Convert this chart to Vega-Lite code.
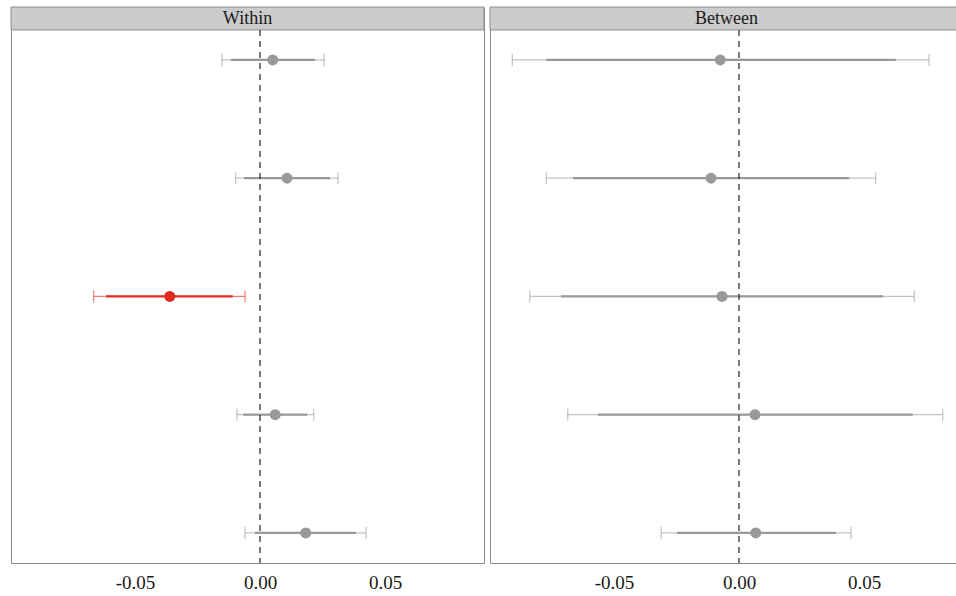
{
  "$schema": "https://vega.github.io/schema/vega-lite/v6.json",
  "background": "white",
  "padding": {"left": 10, "top": 6, "right": 0, "bottom": 0},
  "data": {"values": [
    {"panel": "Within", "term": 1, "est": 0.0051, "lo95": -0.0152, "hi95": 0.0256, "lo90": -0.0117, "hi90": 0.0220, "sig": "no"},
    {"panel": "Within", "term": 2, "est": 0.0108, "lo95": -0.0097, "hi95": 0.0312, "lo90": -0.0064, "hi90": 0.0280, "sig": "no"},
    {"panel": "Within", "term": 3, "est": -0.0361, "lo95": -0.0665, "hi95": -0.0060, "lo90": -0.0616, "hi90": -0.0109, "sig": "yes"},
    {"panel": "Within", "term": 4, "est": 0.0061, "lo95": -0.0092, "hi95": 0.0215, "lo90": -0.0067, "hi90": 0.0189, "sig": "no"},
    {"panel": "Within", "term": 5, "est": 0.0183, "lo95": -0.0060, "hi95": 0.0424, "lo90": -0.0020, "hi90": 0.0384, "sig": "no"},
    {"panel": "Between", "term": 1, "est": -0.0075, "lo95": -0.0907, "hi95": 0.0760, "lo90": -0.0771, "hi90": 0.0627, "sig": "no"},
    {"panel": "Between", "term": 2, "est": -0.0112, "lo95": -0.0771, "hi95": 0.0547, "lo90": -0.0664, "hi90": 0.0441, "sig": "no"},
    {"panel": "Between", "term": 3, "est": -0.0068, "lo95": -0.0837, "hi95": 0.0701, "lo90": -0.0712, "hi90": 0.0577, "sig": "no"},
    {"panel": "Between", "term": 4, "est": 0.0064, "lo95": -0.0685, "hi95": 0.0815, "lo90": -0.0565, "hi90": 0.0695, "sig": "no"},
    {"panel": "Between", "term": 5, "est": 0.0067, "lo95": -0.0311, "hi95": 0.0448, "lo90": -0.0248, "hi90": 0.0388, "sig": "no"}
  ]},
  "facet": {"column": {"field": "panel", "type": "nominal", "sort": ["Within", "Between"], "header": null}},
  "spacing": 4,
  "resolve": {"scale": {"x": "shared", "y": "shared"}},
  "spec": {
    "width": 473,
    "height": 556,
    "encoding": {
      "y": {"field": "term", "type": "quantitative", "scale": {"domain": [0.552, 5.254], "reverse": true, "zero": false, "nice": false}, "axis": null},
      "color": {"field": "sig", "type": "nominal", "scale": {"domain": ["no", "yes"], "range": ["#999999", "#e0291f"]}, "legend": null}
    },
    "layer": [
      {
        "transform": [{"filter": "datum.term == 1"}],
        "mark": {"type": "rect", "fill": "#cccccc", "stroke": "#8c8c8c", "strokeWidth": 1},
        "encoding": {
          "x": {"datum": -0.0996, "type": "quantitative"},
          "x2": {"datum": 0.0896},
          "y": {"datum": 0.552, "type": "quantitative"},
          "y2": {"datum": 0.746},
          "color": null
        }
      },
      {
        "transform": [{"filter": "datum.term == 1"}],
        "mark": {"type": "text", "font": "Liberation Serif", "fontSize": 18, "fill": "#1a1a1a", "baseline": "middle", "align": "center"},
        "encoding": {
          "x": {"datum": -0.005, "type": "quantitative"},
          "y": {"datum": 0.651, "type": "quantitative"},
          "text": {"field": "panel"},
          "color": null
        }
      },
      {
        "mark": {"type": "rule", "strokeWidth": 1.2, "opacity": 0.6},
        "encoding": {
          "x": {"field": "lo95", "type": "quantitative", "scale": {"domain": [-0.0996, 0.0896], "zero": false, "nice": false},
            "axis": {"values": [-0.05, 0, 0.05], "labelExpr": "replace(format(datum.value, '.2f'), '\u2212', '-')", "title": null, "domain": false, "ticks": false, "grid": false, "labelFont": "Liberation Serif", "labelFontSize": 19, "labelColor": "#1a1a1a", "labelPadding": 8}},
          "x2": {"field": "hi95"}
        }
      },
      {
        "mark": {"type": "tick", "orient": "vertical", "size": 12, "thickness": 1.2, "opacity": 0.6},
        "encoding": {"x": {"field": "lo95", "type": "quantitative"}}
      },
      {
        "mark": {"type": "tick", "orient": "vertical", "size": 12, "thickness": 1.2, "opacity": 0.6},
        "encoding": {"x": {"field": "hi95", "type": "quantitative"}}
      },
      {
        "mark": {"type": "rule", "strokeWidth": 2.2},
        "encoding": {
          "x": {"field": "lo90", "type": "quantitative"},
          "x2": {"field": "hi90"}
        }
      },
      {
        "transform": [{"filter": "datum.term == 1"}],
        "mark": {"type": "rule", "color": "#222222", "strokeWidth": 1.2, "strokeDash": [6, 5]},
        "encoding": {
          "x": {"datum": 0, "type": "quantitative"},
          "y": {"datum": 0.746, "type": "quantitative"},
          "y2": {"datum": 5.254},
          "color": null
        }
      },
      {
        "mark": {"type": "point", "filled": true, "size": 120, "opacity": 1},
        "encoding": {"x": {"field": "est", "type": "quantitative"}}
      }
    ]
  },
  "config": {
    "view": {"stroke": "#8c8c8c", "strokeWidth": 1},
    "font": "Liberation Serif"
  }
}
